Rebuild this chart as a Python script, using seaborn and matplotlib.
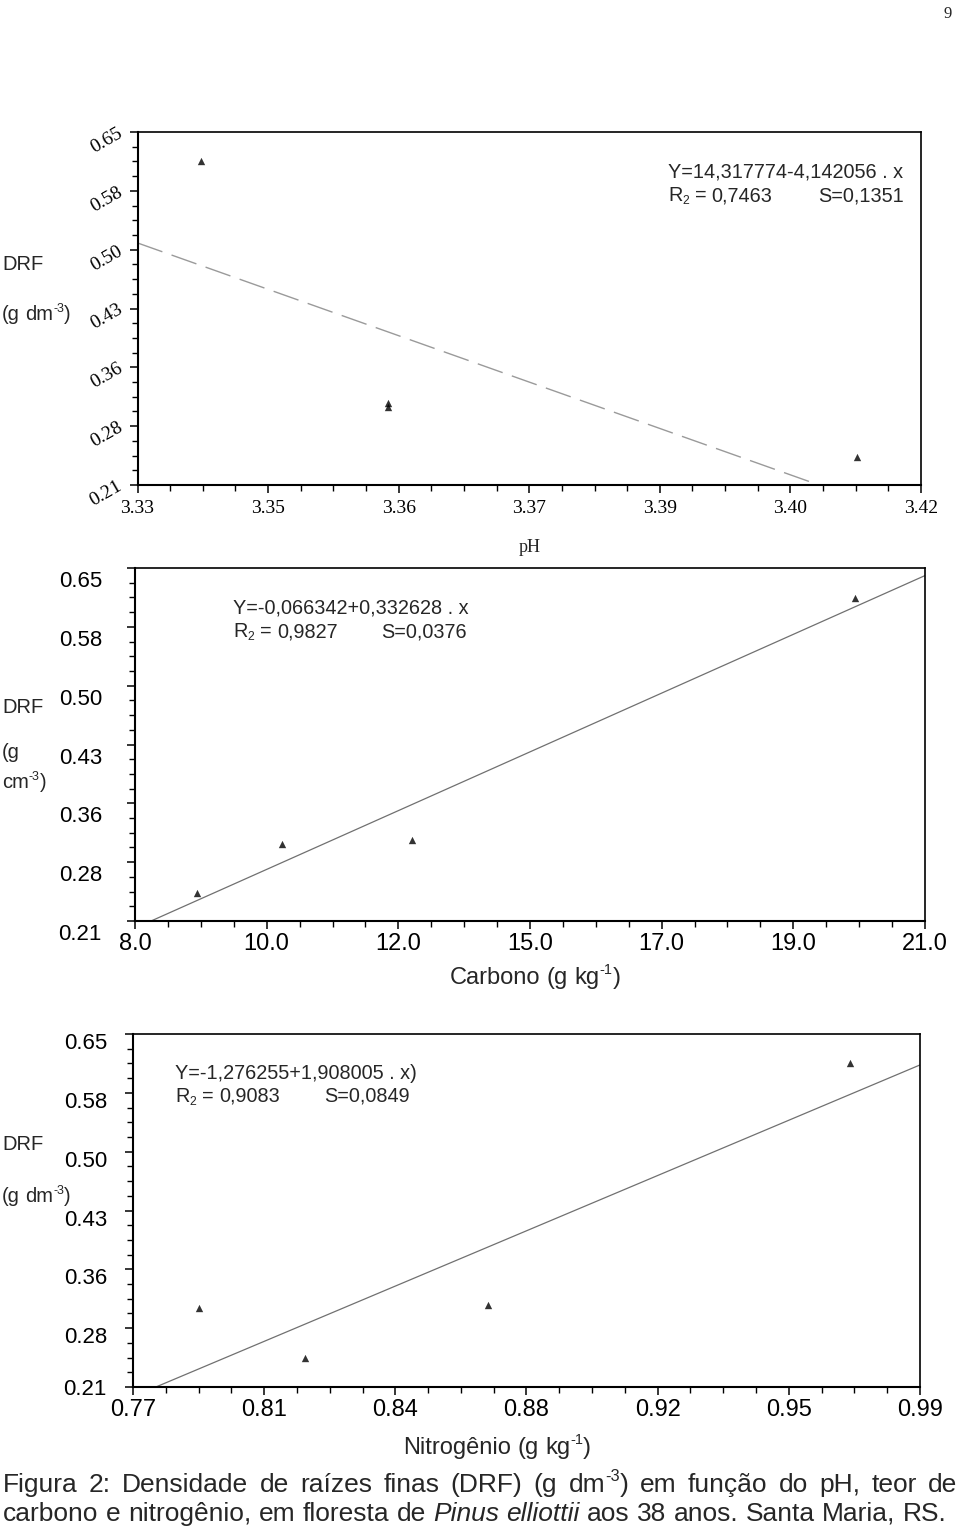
import numpy as np
import pandas as pd
import matplotlib
matplotlib.use("Agg")
import matplotlib.pyplot as plt
import matplotlib.transforms as mtransforms
from matplotlib.ticker import AutoMinorLocator
from matplotlib import font_manager
import seaborn as sns

# ---------------- data ----------------
ph = [3.3373, 3.3588, 3.3588, 3.4127]
drf_ph = [0.614, 0.312, 0.307, 0.245]

carbono = [9.02, 10.42, 12.55, 19.85]
drf_c = [0.245, 0.306, 0.311, 0.613]

nitrogenio = [0.7884, 0.8182, 0.8693, 0.9705]
drf_n = [0.3085, 0.246, 0.312, 0.614]

y_ticklabels = ["0.21", "0.28", "0.36", "0.43", "0.50", "0.58", "0.65"]
ph_ticklabels = ["3.33", "3.35", "3.36", "3.37", "3.39", "3.40", "3.42"]
c_ticklabels = ["8.0", "10.0", "12.0", "15.0", "17.0", "19.0", "21.0"]
n_ticklabels = ["0.77", "0.81", "0.84", "0.88", "0.92", "0.95", "0.99"]

y_range = (0.21, 0.65)
ph_range = (3.33, 3.42)
c_range = (8.0, 21.0)
n_range = (0.77, 0.99)

eq_ph = ["Y=14,317774-4,142056 . x", "0,7463", "S=0,1351"]
eq_c = ["Y=-0,066342+0,332628 . x", "0,9827", "S=0,0376"]
eq_n = ["Y=-1,276255+1,908005 . x)", "0,9083", "S=0,0849"]

# ---------------- style ----------------
sns.set_style("ticks")
names = {f.name for f in font_manager.fontManager.ttflist}
SANS = "Liberation Sans" if "Liberation Sans" in names else "DejaVu Sans"
SERIF = "Liberation Serif" if "Liberation Serif" in names else "DejaVu Serif"
plt.rcParams["font.family"] = [SANS, "DejaVu Sans"]

W, H = 960, 1533
DPI = 100
fig = plt.figure(figsize=(W / DPI, H / DPI), dpi=DPI)
fig.patch.set_facecolor("white")
renderer = fig.canvas.get_renderer()


def rect(l, t, r, b):
    return [l / W, 1 - b / H, (r - l) / W, (b - t) / H]


def fx(x):
    return x / W


def fy(y):
    return 1 - y / H


# ---------- rich text helper (superscript / subscript / italic pieces) ----------
def _piece(txt, kind, size):
    fs = size * 0.62 if kind in ("sup", "sub") else size
    style = "italic" if kind == "it" else "normal"
    t = fig.text(0, 0, txt, fontsize=fs, fontstyle=style, va="baseline", ha="left")
    w = t.get_window_extent(renderer).width
    pt = DPI / 72.0
    dy = {"sup": size * 0.42 * pt, "sub": -size * 0.16 * pt}.get(kind, 0.0)
    return t, w, dy


def _space(size):
    a = fig.text(0, 0, "a a", fontsize=size)
    b = fig.text(0, 0, "aa", fontsize=size)
    s = a.get_window_extent(renderer).width - b.get_window_extent(renderer).width
    a.remove()
    b.remove()
    return s


def rich(words, x, y, size, ha="left", x1=None):
    """words: list of words, each a list of (text, kind). y is baseline in px from top."""
    built = []
    widths = []
    for word in words:
        pcs = [_piece(t, k, size) for t, k in word]
        built.append(pcs)
        widths.append(sum(p[1] for p in pcs))
    if x1 is not None and len(words) > 1:
        gap = (x1 - x - sum(widths)) / (len(words) - 1)
    else:
        gap = _space(size)
    total = sum(widths) + gap * (len(words) - 1)
    cx = x - total / 2 if ha == "center" else x
    for pcs in built:
        for t, w, dy in pcs:
            t.set_position((fx(cx), fy(y - dy)))
            cx += w
        cx += gap


def plain(s):
    return [[(w, "n")] for w in s.split(" ")]


# ---------------- axes ----------------
def setup(ax, xr, xlabels, ylab_font, ylab_size, xlab_font, xlab_size, ypad, xpad):
    ax.set_xlim(*xr)
    ax.set_ylim(*y_range)
    ax.set_xticks(np.linspace(xr[0], xr[1], 7))
    ax.set_xticklabels(xlabels, fontfamily=xlab_font, fontsize=xlab_size)
    ax.set_yticks(np.linspace(y_range[0], y_range[1], 7))
    ax.set_yticklabels(y_ticklabels, fontfamily=ylab_font, fontsize=ylab_size)
    ax.xaxis.set_minor_locator(AutoMinorLocator(4))
    ax.yaxis.set_minor_locator(AutoMinorLocator(4))
    ax.tick_params(which="major", direction="out", length=5.8, width=1.1,
                   color="black", labelcolor="black")
    ax.tick_params(which="minor", direction="out", length=4.0, width=1.0, color="black")
    ax.tick_params(axis="y", which="major", pad=ypad)
    ax.tick_params(axis="x", which="major", pad=xpad)
    for s in ax.spines.values():
        s.set_visible(True)
        s.set_color("black")
    ax.spines["left"].set_linewidth(1.5)
    ax.spines["bottom"].set_linewidth(1.5)
    ax.spines["top"].set_linewidth(1.2)
    ax.spines["right"].set_linewidth(1.2)
    ax.set_facecolor("white")


def draw(ax, x, y, line_kws):
    df = pd.DataFrame({"x": x, "y": y})
    sns.regplot(data=df, x="x", y="y", ax=ax, ci=None, truncate=False, marker="^",
                scatter_kws=dict(s=28, color="black", linewidths=0, zorder=3),
                line_kws=line_kws)
    ax.set_xlabel("")
    ax.set_ylabel("")


# ---------------- panel 1 : pH ----------------
ax1 = fig.add_axes(rect(137.5, 132, 921, 485))
setup(ax1, ph_range, ph_ticklabels, SERIF, 14, SERIF, 14, ypad=6, xpad=5)
draw(ax1, ph, drf_ph, dict(color="#9a9a9a", lw=1.0, dashes=(19, 7)))
for lbl in ax1.get_yticklabels():
    lbl.set_rotation(30)
    lbl.set_rotation_mode("anchor")
    lbl.set_ha("right")
    lbl.set_va("center")
fig.text(fx(530), fy(548), "pH", fontfamily=SERIF, fontsize=13, ha="center", va="center")

# ---------------- panel 2 : carbono ----------------
ax2 = fig.add_axes(rect(135, 568, 925, 921))
setup(ax2, c_range, c_ticklabels, SANS, 16, SANS, 17, ypad=18, xpad=3)
draw(ax2, carbono, drf_c, dict(color="#707070", lw=0.9))
off2 = mtransforms.ScaledTranslation(0, -11 / 100, fig.dpi_scale_trans)
for lbl in ax2.get_yticklabels():
    lbl.set_transform(lbl.get_transform() + off2)
rich([[("Carbono", "n")], [("(g", "n")], [("kg", "n"), ("-1", "sup"), (")", "n")]],
     535, 984, 17, ha="center")

# ---------------- panel 3 : nitrogenio ----------------
ax3 = fig.add_axes(rect(133, 1034, 920, 1387))
setup(ax3, n_range, n_ticklabels, SANS, 16, SANS, 17, ypad=13, xpad=3)
draw(ax3, nitrogenio, drf_n, dict(color="#707070", lw=0.9))
off3 = mtransforms.ScaledTranslation(0, -7 / 100, fig.dpi_scale_trans)
for i, lbl in enumerate(ax3.get_yticklabels()):
    if i > 0:
        lbl.set_transform(lbl.get_transform() + off3)
rich([[("Nitrogênio", "n")], [("(g", "n")], [("kg", "n"), ("-1", "sup"), (")", "n")]],
     497, 1454, 17, ha="center")

# ---------------- equations ----------------
def equation(lines, x, y1, y2, xs, size=14.3):
    fig.text(fx(x), fy(y1), lines[0], fontsize=size, va="baseline")
    rich([[("R", "n"), ("2", "sub")], [("=", "n")], [(lines[1], "n")]], x, y2, size)
    fig.text(fx(xs), fy(y2), lines[2], fontsize=size, va="baseline")


equation(eq_ph, 668, 177, 201, 818)
equation(eq_c, 233, 614, 637, 381)
equation(eq_n, 175, 1079, 1102, 324)

# ---------------- y-axis titles ----------------
unit_dm = [[("(g", "n")], [("dm", "n"), ("-3", "sup"), (")", "n")]]
unit_cm = [[("cm", "n"), ("-3", "sup"), (")", "n")]]
for txt_words, yb in [([[("DRF", "n")]], 270), (unit_dm, 320),
                      ([[("DRF", "n")]], 713), ([[("(g", "n")]], 758), (unit_cm, 788),
                      ([[("DRF", "n")]], 1150), (unit_dm, 1202)]:
    rich(txt_words, 2, yb, 14.5)

# page number
fig.text(fx(952), fy(14), "9", fontfamily=SERIF, fontsize=12, ha="right", va="center")

# ---------------- caption ----------------
cap_size = 19
line1 = (plain("Figura 2: Densidade de raízes finas (DRF) (g")
         + [[("dm", "n"), ("-3", "sup"), (")", "n")]]
         + plain("em função do pH, teor de"))
rich(line1, 3, 1492, cap_size, x1=957)
line2 = (plain("carbono e nitrogênio, em floresta de")
         + [[("Pinus", "it")], [("elliottii", "it")]]
         + plain("aos 38 anos. Santa Maria, RS."))
rich(line2, 3, 1521, cap_size)

fig.savefig("out.png", dpi=DPI, facecolor="white")
